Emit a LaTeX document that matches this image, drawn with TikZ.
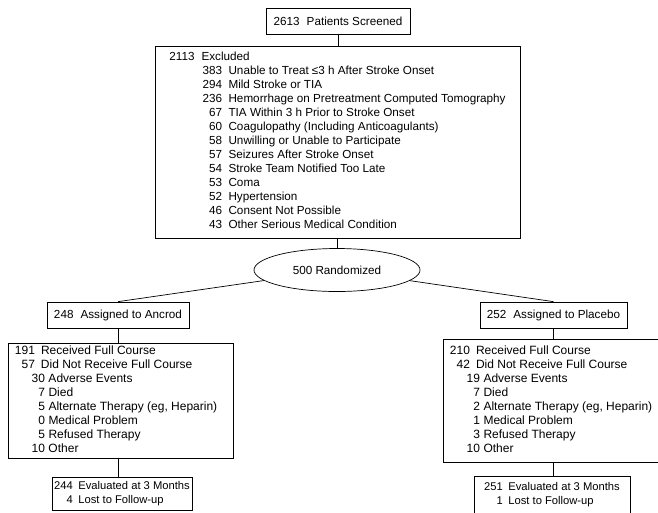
\documentclass[tikz,border=0pt]{standalone}
\usepackage{fontspec}
\setmainfont{Liberation Sans}
\usetikzlibrary{shapes.geometric}

\newcommand{\exn}[1]{\makebox[20.5pt][r]{#1}\hspace{6.5pt}}
\newcommand{\subn}[1]{\makebox[4pt][r]{#1}\hspace{3.5pt}}

\begin{document}
\begin{tikzpicture}[x = 1pt, y = -1pt, line width = 0.7pt,
                        every node/.style = {font = \fontsize{11.7}{14}\selectfont},
                        box/.style = {rectangle, draw, inner xsep = 7pt, inner ysep = 1pt},
                        detail/.style = {box, font = \fontsize{12}{14}\selectfont},
                        result/.style = {box, inner xsep = 0pt, font = \fontsize{11.2}{14}\selectfont},
                        oval/.style = {ellipse, draw, inner sep = 0pt, minimum width = 166pt, minimum height = 43pt}]
      \useasboundingbox (0, 0) rectangle (658, 512);
      \clip (0, 0) rectangle (658, 512);
      \node [box, minimum width = 144pt, minimum height = 26pt] (scr) at (338, 21) {2613\hspace{.6em}Patients Screened};
      \node [box, minimum width = 365pt, minimum height = 192pt] (excl) at (337.5, 142) {%
        \begin{tabular}{@{}r@{\hspace{7pt}}l@{}}
          2113 & Excluded\\
           & \exn{383}Unable to Treat ≤3 h After Stroke Onset\\
           & \exn{294}Mild Stroke or TIA\\
           & \exn{236}Hemorrhage on Pretreatment Computed Tomography\\
           & \exn{67}TIA Within 3 h Prior to Stroke Onset\\
           & \exn{60}Coagulopathy (Including Anticoagulants)\\
           & \exn{58}Unwilling or Unable to Participate\\
           & \exn{57}Seizures After Stroke Onset\\
           & \exn{54}Stroke Team Notified Too Late\\
           & \exn{53}Coma\\
           & \exn{52}Hypertension\\
           & \exn{46}Consent Not Possible\\
           & \exn{43}Other Serious Medical Condition
        \end{tabular}};
      \node [oval] (rand) at (337, 270) {500 Randomized};
      \node [box, minimum width = 137pt, minimum height = 26pt] (ancrod) at (118, 315) {248\hspace{.6em}Assigned to Ancrod};
      \node [box, minimum width = 145pt, minimum height = 26pt] (plac) at (553.5, 315) {252\hspace{.6em}Assigned to Placebo};
      \node [detail, minimum height = 115pt] (ancdet) at (120.5, 400.5) {%
        \begin{tabular}{@{}r@{\hspace{6pt}}p{185pt}@{}}
          191 & Received Full Course\\
          57 & Did Not Receive Full Course\\
           & \subn{30}Adverse Events\\
           & \subn{7}Died\\
           & \subn{5}Alternate Therapy (eg, Heparin)\\
           & \subn{0}Medical Problem\\
           & \subn{5}Refused Therapy\\
           & \subn{10}Other
        \end{tabular}};
      \node [detail, minimum height = 123pt] (placdet) at (555.5, 401) {%
        \begin{tabular}{@{}r@{\hspace{6pt}}p{185pt}@{}}
          210 & Received Full Course\\
          42 & Did Not Receive Full Course\\
           & \subn{19}Adverse Events\\
           & \subn{7}Died\\
           & \subn{2}Alternate Therapy (eg, Heparin)\\
           & \subn{1}Medical Problem\\
           & \subn{3}Refused Therapy\\
           & \subn{10}Other
        \end{tabular}};
      \node [result, minimum width = 140pt, minimum height = 33pt] (anceval) at (122, 493.5) {%
        \begin{tabular}{@{}r@{\hspace{5.5pt}}l@{}}
          244 & Evaluated at 3 Months\\
          4 & Lost to Follow-up
        \end{tabular}};
      \node [result, minimum width = 156pt, minimum height = 38pt] (placeval) at (552, 495) {%
        \begin{tabular}{@{}r@{\hspace{5.5pt}}l@{}}
          251 & Evaluated at 3 Months\\
          1 & Lost to Follow-up
        \end{tabular}};
      \draw (scr) -- (excl.north -| scr);
      \draw (excl.south -| rand) -- (rand);
      \draw (rand) -- (ancrod.north);
      \draw (rand) -- (plac.north);
      \draw (ancrod) -- (ancdet.north -| ancrod);
      \draw (ancdet.south -| ancrod) -- (anceval.north -| ancrod);
      \draw (plac) -- (placdet.north -| plac);
      \draw (placdet.south -| plac) -- (placeval.north -| plac);
    \end{tikzpicture}
\end{document}
